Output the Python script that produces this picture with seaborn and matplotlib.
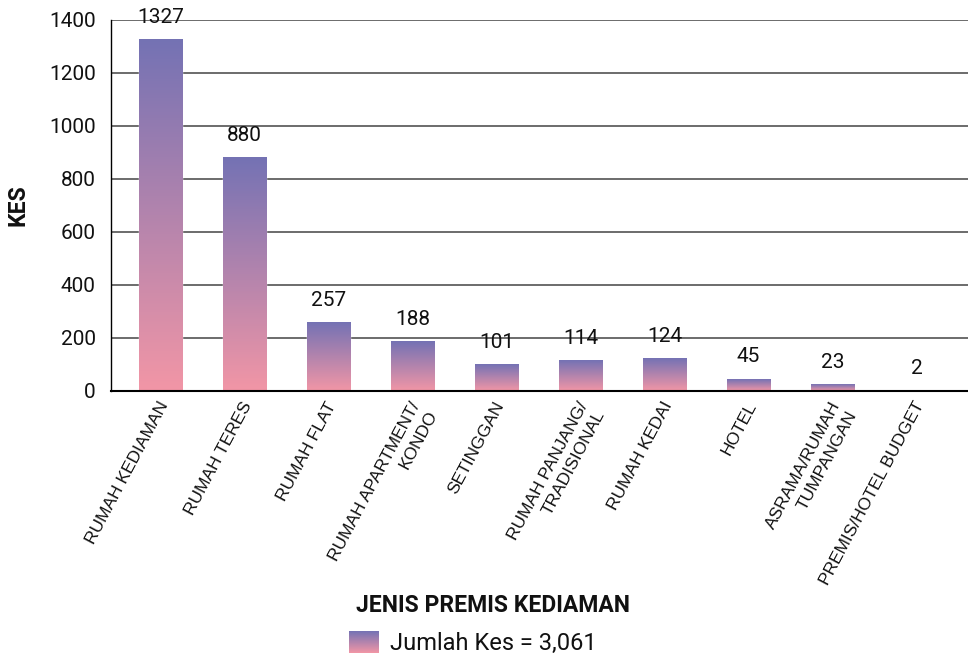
import numpy as np
import pandas as pd
import matplotlib.pyplot as plt
import seaborn as sns
from matplotlib.colors import LinearSegmentedColormap
from matplotlib.legend_handler import HandlerBase
from matplotlib.image import BboxImage
from matplotlib.transforms import Bbox, TransformedBbox, ScaledTranslation
from matplotlib.patches import Rectangle

premis = [
    "RUMAH KEDIAMAN",
    "RUMAH TERES",
    "RUMAH FLAT",
    "RUMAH APARTMENT/\nKONDO",
    "SETINGGAN",
    "RUMAH PANJANG/\nTRADISIONAL",
    "RUMAH KEDAI",
    "HOTEL",
    "ASRAMA/RUMAH\nTUMPANGAN",
    "PREMIS/HOTEL BUDGET",
]
kes = [1327, 880, 257, 188, 101, 114, 124, 45, 23, 2]
yticks = [0, 200, 400, 600, 800, 1000, 1200, 1400]
legend_label = "Jumlah Kes = 3,061"

top_color = "#7472b4"
bottom_color = "#f296a6"
grad_cmap = LinearSegmentedColormap.from_list("kes", [bottom_color, top_color])
gradient = np.linspace(1, 0, 256).reshape(-1, 1)

sns.set_theme(style="white")
plt.rcParams["font.family"] = ["Roboto", "DejaVu Sans"]

df = pd.DataFrame({"premis": premis, "kes": kes})

fig = plt.figure(figsize=(9.68, 6.57), dpi=100)
ax = fig.add_axes([0.1147, 0.405, 0.8853, 0.5647])

sns.barplot(data=df, x="premis", y="kes", ax=ax, width=0.52, color=top_color, zorder=2)

# gradient fill inside each bar (blue at top, pink at the base)
for bar in ax.patches:
    x, y = bar.get_x(), bar.get_y()
    w, h = bar.get_width(), bar.get_height()
    ax.imshow(gradient, cmap=grad_cmap, extent=[x, x + w, y, y + h],
              aspect="auto", zorder=3, interpolation="bicubic")
    bar.set_facecolor("none")

ax.bar_label(ax.containers[0], labels=[str(v) for v in kes], padding=9,
             fontsize=15, color="#111111", zorder=4)

ax.set_xlim(-0.589, 9.613)
ax.set_ylim(0, 1400)
ax.set_yticks(yticks)
ax.yaxis.grid(True, color="#6b6b6b", linewidth=1.4, zorder=0)
ax.set_axisbelow(True)
for side in ["top", "right"]:
    ax.spines[side].set_visible(False)
ax.spines["left"].set_color("black")
ax.spines["left"].set_linewidth(1.0)
ax.spines["bottom"].set_color("black")
ax.spines["bottom"].set_linewidth(1.5)
ax.spines["bottom"].set_zorder(5)

ax.tick_params(axis="y", length=0, pad=11, labelsize=15, labelcolor="#111111")
ax.tick_params(axis="x", length=0, pad=6)
ax.set_xticks(range(len(premis)))
ax.set_xticklabels(premis, rotation=62, ha="right", va="top", rotation_mode="anchor",
                   family=["Liberation Sans", "DejaVu Sans"], fontsize=12.5,
                   color="#111111", linespacing=1.35)
# nudge the rotated labels a little to the left
shift = ScaledTranslation(-2 / 72, 0, fig.dpi_scale_trans)
for lbl in ax.get_xticklabels():
    lbl.set_transform(lbl.get_transform() + shift)

ax.set_xlabel("")
ax.set_ylabel("KES", fontsize=16.5, fontweight="bold", color="#111111", labelpad=14)

fig.text(0.5088, 1 - 606 / 657, "JENIS PREMIS KEDIAMAN", ha="center", va="center",
         fontsize=16.5, fontweight="bold", color="#111111")


class GradientHandler(HandlerBase):
    def create_artists(self, legend, orig_handle, xdescent, ydescent,
                       width, height, fontsize, trans):
        bb = TransformedBbox(Bbox.from_bounds(-xdescent, -ydescent, width, height), trans)
        img = BboxImage(bb, cmap=grad_cmap, interpolation="bicubic")
        img.set_data(gradient)
        return [img]


handle = Rectangle((0, 0), 1, 1)
fig.legend([handle], [legend_label], handler_map={Rectangle: GradientHandler()},
           loc="center", bbox_to_anchor=(472.5 / 968, 1 - 643 / 657), frameon=False,
           fontsize=17, handlelength=1.23, handleheight=1.02, handletextpad=0.5,
           labelcolor="#111111")

fig.savefig("out.png", dpi=100)
